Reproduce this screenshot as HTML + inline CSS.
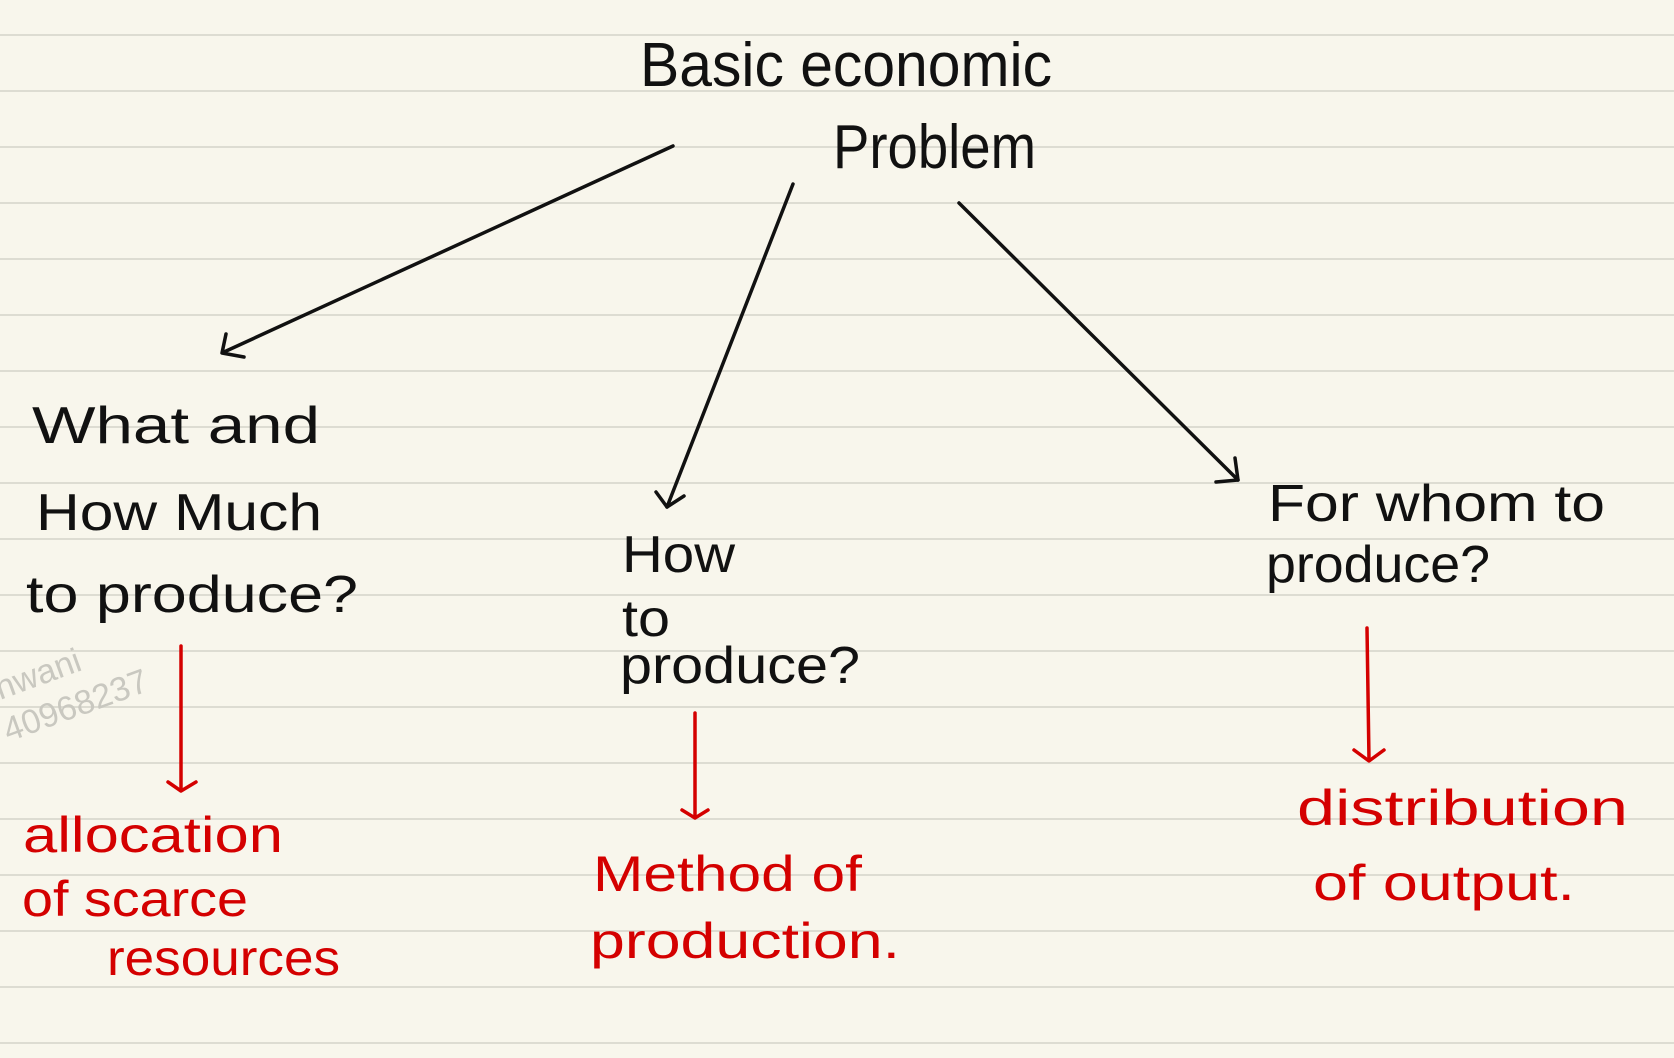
<!DOCTYPE html>
<html><head><meta charset="utf-8"><style>
html,body{margin:0;padding:0;width:1674px;height:1058px;overflow:hidden;background:#f8f6ec;}
svg{display:block}
text{font-family:"Liberation Sans",sans-serif;}
</style></head><body>
<svg width="1674" height="1058" viewBox="0 0 1674 1058">
<rect width="1674" height="1058" fill="#f8f6ec"/>
<g stroke="#dddcd2" stroke-width="2">
<line x1="0" y1="35" x2="1674" y2="35"/><line x1="0" y1="91" x2="1674" y2="91"/><line x1="0" y1="147" x2="1674" y2="147"/><line x1="0" y1="203" x2="1674" y2="203"/><line x1="0" y1="259" x2="1674" y2="259"/><line x1="0" y1="315" x2="1674" y2="315"/><line x1="0" y1="371" x2="1674" y2="371"/><line x1="0" y1="427" x2="1674" y2="427"/><line x1="0" y1="483" x2="1674" y2="483"/><line x1="0" y1="539" x2="1674" y2="539"/><line x1="0" y1="595" x2="1674" y2="595"/><line x1="0" y1="651" x2="1674" y2="651"/><line x1="0" y1="707" x2="1674" y2="707"/><line x1="0" y1="763" x2="1674" y2="763"/><line x1="0" y1="819" x2="1674" y2="819"/><line x1="0" y1="875" x2="1674" y2="875"/><line x1="0" y1="931" x2="1674" y2="931"/><line x1="0" y1="987" x2="1674" y2="987"/><line x1="0" y1="1043" x2="1674" y2="1043"/>
</g>
<text x="0" y="700" font-size="34" fill="#c9c8c0" transform="rotate(-20 0 700)">nwani</text>
<text x="-10" y="745" font-size="34" fill="#c9c8c0" transform="rotate(-20 0 745)">740968237</text>
<g fill="#111" font-size="52">
<text x="640" y="86" font-size="62" textLength="412" lengthAdjust="spacingAndGlyphs">Basic economic</text>
<text x="833" y="168" font-size="62" textLength="203" lengthAdjust="spacingAndGlyphs">Problem</text>
<text x="32" y="443" textLength="288" lengthAdjust="spacingAndGlyphs">What and</text>
<text x="36" y="530" textLength="286" lengthAdjust="spacingAndGlyphs">How Much</text>
<text x="26" y="612" textLength="332" lengthAdjust="spacingAndGlyphs">to produce?</text>
<text x="622" y="572" textLength="113" lengthAdjust="spacingAndGlyphs">How</text>
<text x="622" y="636" textLength="48" lengthAdjust="spacingAndGlyphs">to</text>
<text x="620" y="683" textLength="240" lengthAdjust="spacingAndGlyphs">produce?</text>
<text x="1268" y="521" textLength="337" lengthAdjust="spacingAndGlyphs">For whom to</text>
<text x="1266" y="582" textLength="224" lengthAdjust="spacingAndGlyphs">produce?</text>
</g>
<g stroke="#111" stroke-width="3.5" fill="none" stroke-linecap="round" stroke-linejoin="round">
<path d="M673 146 L224 352"/><path d="M226 334 L222 353 L244 357"/>
<path d="M793 184 L667 507"/><path d="M656 492 L667 507 L684 496"/>
<path d="M959 203 L1238 480"/><path d="M1235 458 L1238 480 L1216 482"/>
</g>
<g stroke="#d40000" stroke-width="3.5" fill="none" stroke-linecap="round" stroke-linejoin="round">
<path d="M181 646 L181 790"/><path d="M168 782 L181 791 L196 782"/>
<path d="M695 713 L695 817"/><path d="M682 810 L695 818 L708 810"/>
<path d="M1367 628 L1369 760"/><path d="M1354 750 L1369 761 L1384 750"/>
</g>
<g fill="#d40000" font-size="50">
<text x="23" y="852" textLength="260" lengthAdjust="spacingAndGlyphs">allocation</text>
<text x="22" y="916" textLength="226" lengthAdjust="spacingAndGlyphs">of scarce</text>
<text x="107" y="975" textLength="233" lengthAdjust="spacingAndGlyphs">resources</text>
<text x="593" y="891" textLength="269" lengthAdjust="spacingAndGlyphs">Method of</text>
<text x="590" y="958" textLength="310" lengthAdjust="spacingAndGlyphs">production.</text>
<text x="1297" y="825" textLength="331" lengthAdjust="spacingAndGlyphs">distribution</text>
<text x="1313" y="900" textLength="262" lengthAdjust="spacingAndGlyphs">of output.</text>
</g>
</svg>
</body></html>
